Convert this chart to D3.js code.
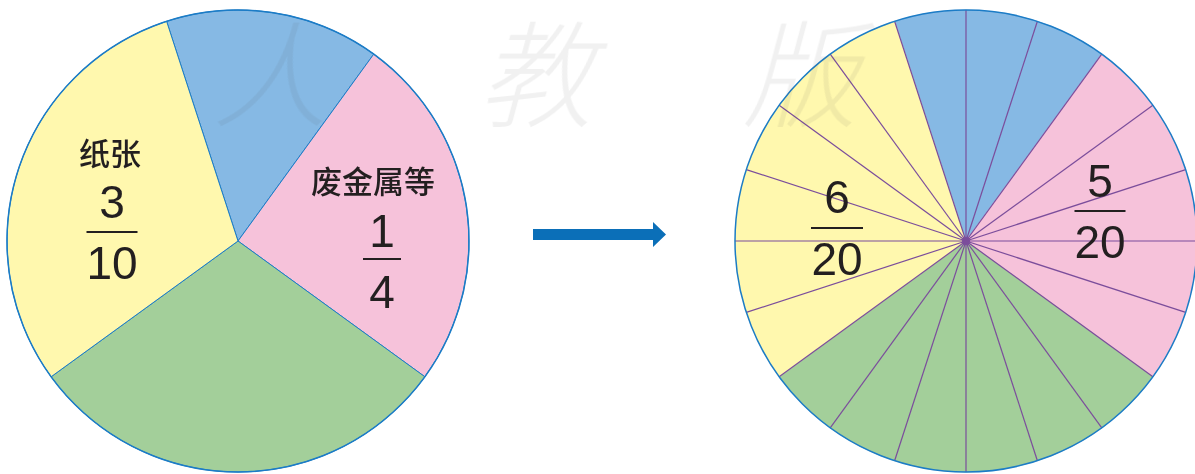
<!DOCTYPE html>
<html>
<head>
<meta charset="utf-8">
<script src="https://cdn.jsdelivr.net/npm/d3@7"></script>
<style>
  body { margin: 0; background: #fff; }
  svg { display: block; }
</style>
</head>
<body>
<svg id="chart" width="1195" height="474"></svg>
<script>
// parts out of 20, clockwise from -18deg
const categories = ['blue', 'pink', 'green', 'yellow'];
const parts = [3, 5, 6, 6];
const sliceColors = ['#86b9e4', '#f6c2da', '#a3cf9a', '#fff8ae'];

// labels on left pie: [title, numerator, denominator]
const leftLabels = [
  {cat: 'yellow', title: '纸张', num: '3', den: '10'},
  {cat: 'pink', title: '废金属等', num: '1', den: '4'}
];
const rightLabels = [
  {cat: 'yellow', num: '6', den: '20'},
  {cat: 'pink', num: '5', den: '20'}
];
const watermark = ['人', '教', '版'];

const graphicopt = {
  width: 1195, height: 474,
  radius: 231,
  left: {cx: 238, cy: 241},
  right: {cx: 966, cy: 241},
  startAngle: -Math.PI / 10,
  border: '#1c7cc6',
  divider: '#7b4d9b',
  arrow: '#0b6fb8'
};

const svg = d3.select('#chart');
const color = d3.scaleOrdinal().domain(categories).range(sliceColors);
const arc = d3.arc().innerRadius(0).outerRadius(graphicopt.radius);

const pie = d3.pie().sort(null).value(d => d.v)
  .startAngle(graphicopt.startAngle)
  .endAngle(graphicopt.startAngle + 2 * Math.PI);

// ---- left pie
const leftData = pie(categories.map((c, i) => ({c, v: parts[i]})));
const gL = svg.append('g').attr('transform', `translate(${graphicopt.left.cx},${graphicopt.left.cy})`);
gL.selectAll('path.slice').data(leftData).join('path')
  .attr('class', 'slice')
  .attr('d', arc)
  .attr('fill', d => color(d.data.c))
  .attr('stroke', graphicopt.border)
  .attr('stroke-width', 1)
  .attr('stroke-linejoin', 'round');
gL.append('circle').attr('r', graphicopt.radius)
  .attr('fill', 'none').attr('stroke', graphicopt.border).attr('stroke-width', 1.5);

// ---- right pie (20 equal pieces)
const units = [];
categories.forEach((c, i) => d3.range(parts[i]).forEach(() => units.push({c, v: 1})));
const rightData = pie(units);
const gR = svg.append('g').attr('transform', `translate(${graphicopt.right.cx},${graphicopt.right.cy})`);
gR.selectAll('path.slice').data(rightData).join('path')
  .attr('class', 'slice')
  .attr('d', arc)
  .attr('fill', d => color(d.data.c))
  .attr('stroke', d => color(d.data.c))
  .attr('stroke-width', 0.5);
gR.selectAll('line.div').data(rightData).join('line')
  .attr('class', 'div')
  .attr('x1', 0).attr('y1', 0)
  .attr('x2', d => graphicopt.radius * Math.sin(d.startAngle))
  .attr('y2', d => -graphicopt.radius * Math.cos(d.startAngle))
  .attr('stroke', graphicopt.divider)
  .attr('stroke-width', 1.2);
gR.append('circle').attr('r', 4).attr('fill', graphicopt.divider);
gR.append('circle').attr('r', graphicopt.radius)
  .attr('fill', 'none').attr('stroke', graphicopt.border).attr('stroke-width', 1.5);

// ---- watermark
const wm = svg.append('g').attr('opacity', 0.08).attr('fill', '#555')
  .style('font-family', '"Noto Sans CJK SC", sans-serif').style('font-weight', 300);
const wmX = d3.scalePoint().domain(watermark).range([270, 800]);
wm.selectAll('text').data(watermark).join('text')
  .attr('x', d => wmX(d)).attr('y', 118)
  .attr('text-anchor', 'middle')
  .attr('font-size', 115)
  .attr('transform', 'skewX(-15) translate(32,0)')
  .text(d => d);

// ---- fraction labels
function fraction(g, x, yNum, yLine, yDen, num, den, w) {
  const f = g.append('g').attr('fill', '#231f20')
    .style('font-family', '"Liberation Sans", Arial, sans-serif')
    .attr('font-size', 46).attr('text-anchor', 'middle');
  f.append('text').attr('x', x).attr('y', yNum).text(num);
  f.append('line').attr('x1', x - w / 2).attr('x2', x + w / 2)
    .attr('y1', yLine).attr('y2', yLine)
    .attr('stroke', '#231f20').attr('stroke-width', 2);
  f.append('text').attr('x', x).attr('y', yDen).text(den);
}
const labelPos = {
  left: {
    yellow: {tx: 110, x: 112, title: 165, num: 218, line: 232, den: 279, w: 51},
    pink: {tx: 373, x: 382, title: 193, num: 247, line: 259, den: 308, w: 38}
  },
  right: {
    yellow: {x: 837, num: 213, line: 228, den: 275, w: 52},
    pink: {x: 1100, num: 197, line: 211, den: 258, w: 51}
  }
};
leftLabels.forEach(l => {
  const p = labelPos.left[l.cat];
  svg.append('text').attr('x', p.tx).attr('y', p.title)
    .attr('text-anchor', 'middle').attr('fill', '#231f20')
    .style('font-family', '"Noto Sans CJK SC", sans-serif')
    .style('font-weight', 500)
    .attr('font-size', 31)
    .text(l.title);
  fraction(svg, p.x, p.num, p.line, p.den, l.num, l.den, p.w);
});
rightLabels.forEach(l => {
  const p = labelPos.right[l.cat];
  fraction(svg, p.x, p.num, p.line, p.den, l.num, l.den, p.w);
});

// ---- arrow
svg.append('path')
  .attr('d', 'M533,229 L653,229 L653,222 L666,234.5 L653,247 L653,240 L533,240 Z')
  .attr('fill', graphicopt.arrow);
</script>
</body>
</html>
